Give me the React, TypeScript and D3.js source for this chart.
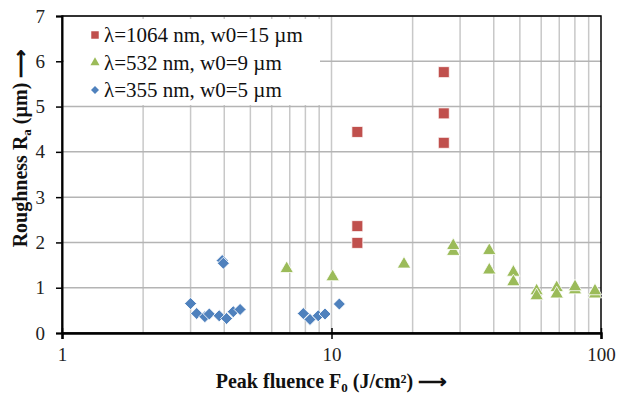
import React, { useEffect, useRef } from "react";
import * as d3 from "d3";

// Peak fluence (J/cm²) and roughness Ra (µm) for each wavelength
const redX = [12.47, 12.47, 12.47, 26.1, 26.1, 26.1];
const redY = [4.44, 2.36, 1.99, 5.76, 4.85, 4.2];

const greenX = [6.82, 10.1, 18.58, 28.3, 28.3, 38.5, 38.5, 47.3, 47.3, 57.7, 57.7, 68.5, 68.5, 80.1, 80.1, 95.0, 95.0];
const greenY = [1.42, 1.24, 1.52, 1.8, 1.93, 1.82, 1.39, 1.34, 1.13, 0.93, 0.82, 1.0, 0.86, 0.95, 1.02, 0.86, 0.93];

const blueX = [3.0, 3.16, 3.39, 3.52, 3.83, 4.08, 4.32, 4.58, 3.93, 3.97, 7.86, 8.32, 8.93, 9.46, 10.69];
const blueY = [0.65, 0.43, 0.36, 0.42, 0.38, 0.32, 0.47, 0.52, 1.6, 1.54, 0.43, 0.3, 0.38, 0.42, 0.64];

const seriesNames = ["λ=1064 nm, w0=15 µm", "λ=532 nm, w0=9 µm", "λ=355 nm, w0=5 µm"];
const seriesColors = ["#C0504D", "#9BBB59", "#4F81BD"];
const yTicks = [0, 1, 2, 3, 4, 5, 6, 7];
const xTicks = [1, 10, 100];

const W = 617;
const H = 394;
const FONT = "Liberation Serif";

const App = () => {
    const svgRef = useRef<SVGSVGElement>(null);

    useEffect(() => {
        const svg = d3.select(svgRef.current);
        svg.selectAll("*").remove();

        const margin = { top: 16, right: 16, bottom: 61, left: 62 };
        const x = d3.scaleLog().domain([1, 100]).range([margin.left, W - margin.right]);
        const y = d3.scaleLinear().domain([0, 7]).range([H - margin.bottom, margin.top]);

        // minor vertical gridlines
        const minor: number[] = [];
        [1, 10].forEach(d => { for (let k = 2; k <= 9; k++) minor.push(d * k); });
        minor.push(10);
        svg.append("g")
            .selectAll("line")
            .data(minor)
            .enter()
            .append("line")
            .attr("x1", d => x(d)).attr("x2", d => x(d))
            .attr("y1", y(0)).attr("y2", y(7))
            .attr("stroke", "#c8c8c8")
            .attr("stroke-width", 1.5);

        // horizontal gridlines
        svg.append("g")
            .selectAll("line")
            .data(yTicks.slice(1))
            .enter()
            .append("line")
            .attr("x1", x(1)).attr("x2", x(100))
            .attr("y1", d => y(d)).attr("y2", d => y(d))
            .attr("stroke", "#b4b4b4")
            .attr("stroke-width", 1.5);

        // legend background hides the grid behind it
        svg.append("rect")
            .attr("x", 64).attr("y", 19)
            .attr("width", 256).attr("height", 86)
            .attr("fill", "white");

        // frame
        svg.append("rect")
            .attr("x", x(1)).attr("y", y(7))
            .attr("width", x(100) - x(1)).attr("height", y(0) - y(7))
            .attr("fill", "none")
            .attr("stroke", "#000")
            .attr("stroke-width", 1.5);

        // Y axis
        const yAxis = svg.append("g")
            .attr("transform", `translate(${x(1)},0)`)
            .call(d3.axisLeft(y).tickValues(yTicks).tickFormat(d3.format("d")).tickSize(6).tickPadding(11));
        yAxis.select(".domain").attr("stroke", "#000").attr("stroke-width", 2);
        yAxis.selectAll(".tick line").attr("stroke", "#000").attr("stroke-width", 1.5);
        yAxis.selectAll("text")
            .attr("font-family", FONT).attr("font-size", 19)
            .attr("fill", "#222");

        // X axis
        const xAxis = svg.append("g")
            .attr("transform", `translate(0,${y(0)})`)
            .call(d3.axisBottom(x).tickValues(xTicks).tickFormat(d3.format("d")).tickSize(6).tickPadding(9));
        xAxis.select(".domain").attr("stroke", "#000").attr("stroke-width", 2.5);
        xAxis.selectAll(".tick line")
            .attr("y1", -5)
            .attr("stroke", "#000").attr("stroke-width", 1.5);
        xAxis.selectAll("text")
            .attr("font-family", FONT).attr("font-size", 19)
            .attr("fill", "#222");

        const square = d3.symbol().type(d3.symbolSquare);
        const triangle = d3.symbol().type(d3.symbolTriangle);

        const drawSeries = (xs: number[], ys: number[], color: string, path: string, rotate: number) => {
            svg.append("g")
                .selectAll("path")
                .data(xs.map((v, i) => [v, ys[i]]))
                .enter()
                .append("path")
                .attr("d", path)
                .attr("transform", d => `translate(${x(d[0])},${y(d[1])}) rotate(${rotate})`)
                .attr("fill", color)
                .attr("stroke", "white")
                .attr("stroke-width", 0.8);
        };

        drawSeries(redX, redY, seriesColors[0], square.size(121)() as string, 0);
        drawSeries(greenX, greenY, seriesColors[1], triangle.size(78)() as string, 0);
        drawSeries(blueX, blueY, seriesColors[2], square.size(72)() as string, 45);

        // Legend
        const legendShapes = [
            { path: square.size(56)() as string, rot: 0 },
            { path: triangle.size(36)() as string, rot: 0 },
            { path: square.size(32)() as string, rot: 45 },
        ];
        const legend = svg.append("g");
        seriesNames.forEach((name, i) => {
            const cy = 35 + i * 27.5;
            legend.append("path")
                .attr("d", legendShapes[i].path)
                .attr("transform", `translate(95,${cy}) rotate(${legendShapes[i].rot})`)
                .attr("fill", seriesColors[i]);
            legend.append("text")
                .attr("x", 104)
                .attr("y", cy + 7)
                .attr("font-family", FONT)
                .attr("font-size", 21)
                .attr("fill", "#111")
                .text(name);
        });

        // Axis titles
        const xt = svg.append("text")
            .attr("x", (x(1) + x(100)) / 2)
            .attr("y", 388)
            .attr("text-anchor", "middle")
            .attr("font-family", FONT)
            .attr("font-size", 20)
            .attr("font-weight", "bold")
            .attr("fill", "#111");
        xt.append("tspan").text("Peak fluence F");
        xt.append("tspan").attr("dy", 4).attr("font-size", 13).text("0");
        xt.append("tspan").attr("dy", -4).text(" (J/cm²) ⟶");

        const yt = svg.append("text")
            .attr("transform", "translate(27,148) rotate(-90)")
            .attr("text-anchor", "middle")
            .attr("font-family", FONT)
            .attr("font-size", 20)
            .attr("font-weight", "bold")
            .attr("fill", "#111");
        yt.append("tspan").text("Roughness R");
        yt.append("tspan").attr("dy", 4).attr("font-size", 13).text("a");
        yt.append("tspan").attr("dy", -4).text(" (µm) ⟶");
    }, []);

    return (
        <div style={{ position: "fixed", top: 0, left: 0, background: "white" }}>
            <svg ref={svgRef} width={W} height={H} style={{ display: "block" }} />
        </div>
    );
};

export default App;
